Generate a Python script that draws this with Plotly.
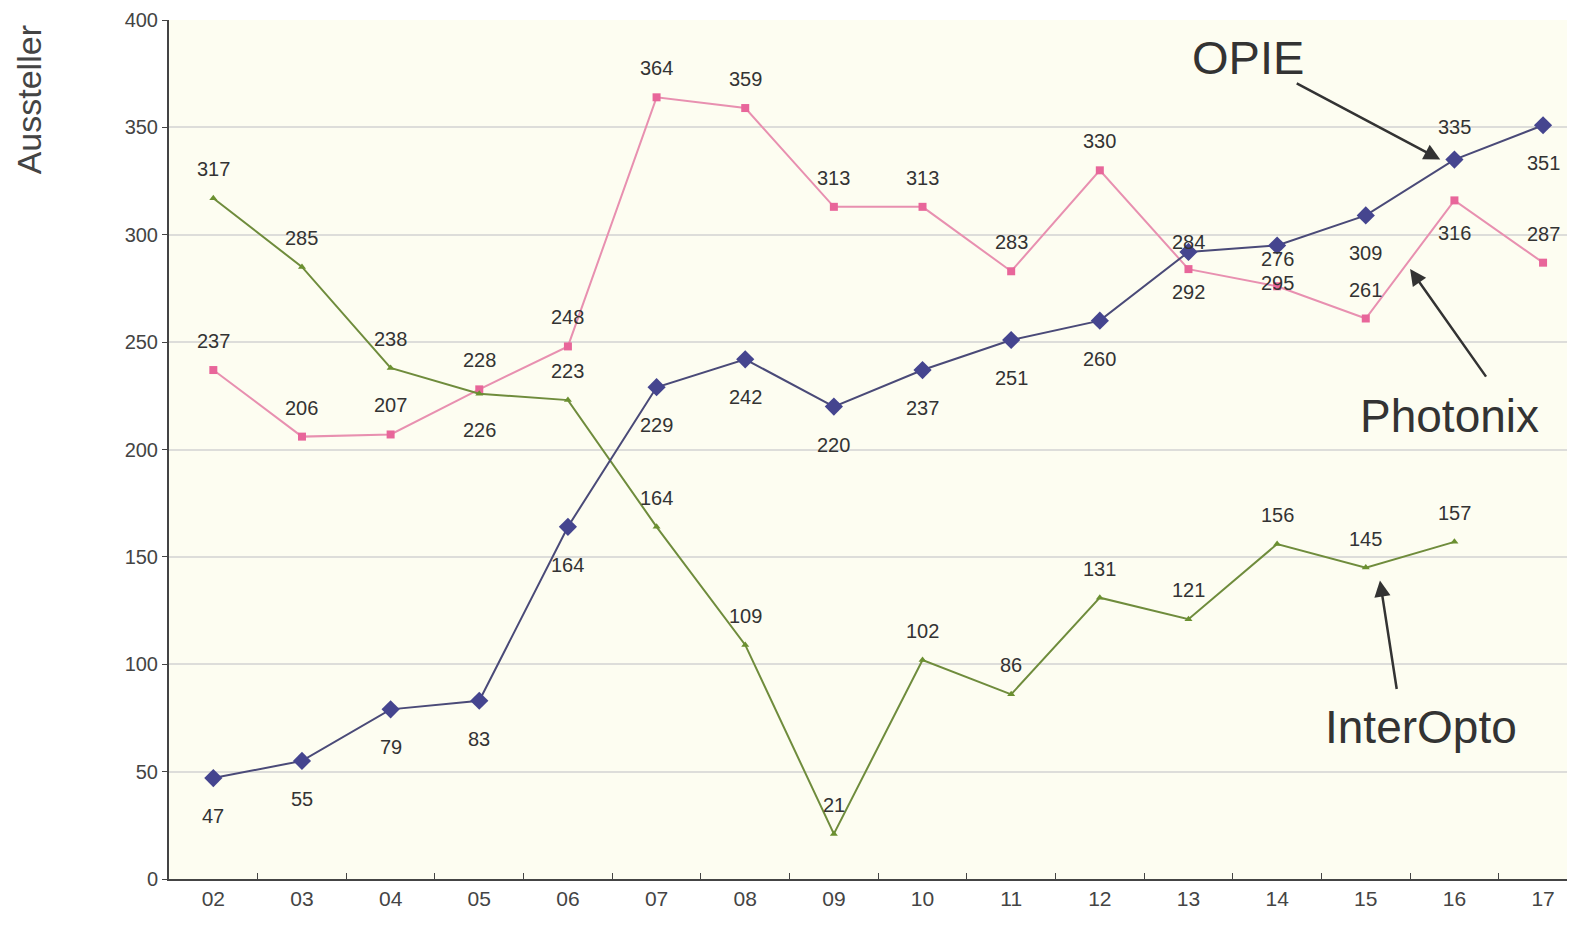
import plotly.graph_objects as go

years = ["02", "03", "04", "05", "06", "07", "08", "09", "10", "11", "12", "13", "14", "15", "16", "17"]
opie = [47, 55, 79, 83, 164, 229, 242, 220, 237, 251, 260, 292, 295, 309, 335, 351]
photonix = [237, 206, 207, 228, 248, 364, 359, 313, 313, 283, 330, 284, 276, 261, 316, 287]
interopto = [317, 285, 238, 226, 223, 164, 109, 21, 102, 86, 131, 121, 156, 145, 157]

# label offsets (pixels, + = above the point)
opie_shift = [-38] * 16
opie_shift[11] = -40
opie_shift[14] = 33
photo_shift = [29] * 16
photo_shift[11] = 27
photo_shift[12] = 27
photo_shift[14] = -33
inter_shift = [29] * 15
inter_shift[3] = -36

lab_font = dict(family="Liberation Sans, Arial", size=20, color="#333333")

fig = go.Figure()
fig.add_trace(go.Scatter(
    x=years, y=photonix, mode="lines+markers",
    line=dict(color="#E890B0", width=2), marker=dict(symbol="square", size=8, color="#E8669A"),
    name="Photonix", cliponaxis=False))
fig.add_trace(go.Scatter(
    x=years[:len(interopto)], y=interopto, mode="lines+markers",
    line=dict(color="#6F8C3C", width=2), marker=dict(symbol="triangle-up", size=7, color="#6B9030"),
    name="InterOpto", cliponaxis=False))
fig.add_trace(go.Scatter(
    x=years, y=opie, mode="lines+markers",
    line=dict(color="#4A4A78", width=2), marker=dict(symbol="diamond", size=14, color="#45458F"),
    name="OPIE", cliponaxis=False))

for ys, shifts in [(opie, opie_shift), (photonix, photo_shift), (interopto, inter_shift)]:
    for i, (yv, sh) in enumerate(zip(ys, shifts)):
        fig.add_annotation(x=i, y=yv, xref="x", yref="y", text=str(yv), showarrow=False,
                           xanchor="center", yanchor="middle", yshift=sh, font=lab_font)

# plot area in page pixels: left 168.7, top 20, right 1567, bottom 879
def px(xp):
    return (xp - 168.7) / 1398.3

def py(yp):
    return (879 - yp) / 859

big = dict(family="Liberation Sans, Arial", color="#333333")
for txt, cx, cy, sz in [("OPIE", 1248, 57, 47), ("Photonix", 1449, 416, 46), ("InterOpto", 1421, 727, 46)]:
    fig.add_annotation(x=px(cx), y=py(cy), xref="paper", yref="paper", text=txt, showarrow=False,
                       xanchor="center", yanchor="middle", font=dict(size=sz, **big))

arrow = dict(showarrow=True, arrowhead=2, arrowsize=1.3, arrowwidth=2.5, arrowcolor="#333333", text="",
             xref="x", yref="y", axref="pixel", ayref="pixel")
fig.add_annotation(x=13.84, y=335, ax=-145, ay=-77, **arrow)
fig.add_annotation(x=13.5, y=284, ax=77, ay=109, **arrow)
fig.add_annotation(x=13.16, y=139, ax=17, ay=110, **arrow)

fig.add_annotation(x=px(29), y=py(100), xref="paper", yref="paper", text="Aussteller",
                   textangle=-90, showarrow=False, xanchor="center", yanchor="middle",
                   font=dict(family="Liberation Sans, Arial", size=34, color="#444444"))

# page body has an 8px margin on each side: figure sized to fit the window exactly
fig.update_layout(
    width=1559, height=909, showlegend=False,
    paper_bgcolor="white", plot_bgcolor="#FDFDF1",
    margin=dict(l=161, r=0, t=12, b=38, autoexpand=False),
    xaxis=dict(type="category", range=[-0.5, 15.27], showgrid=False, showline=True, linecolor="#444444",
               linewidth=2, ticks="inside", tickson="boundaries", ticklen=6, tickcolor="#444444",
               tickfont=dict(family="Liberation Sans, Arial", size=21, color="#444444"), zeroline=False,
               automargin=False),
    yaxis=dict(range=[0, 400], dtick=50, showgrid=True, gridcolor="#DDDDDA", gridwidth=2,
               showline=True, linecolor="#444444", linewidth=2, ticks="outside", ticklen=5,
               tickcolor="#444444", tickfont=dict(family="Liberation Sans, Arial", size=20, color="#444444"),
               zeroline=False, automargin=False, ticklabeloverflow="allow"),
)
fig.write_html("out.html")
